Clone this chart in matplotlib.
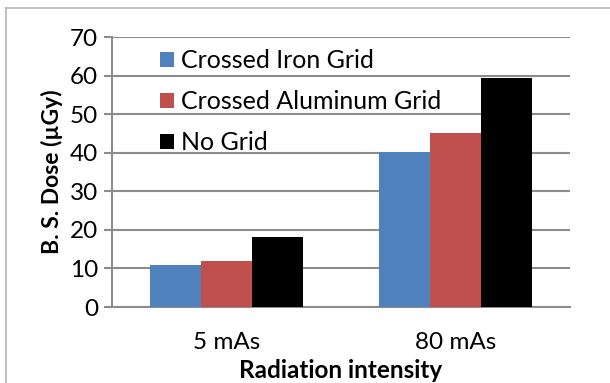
import matplotlib
matplotlib.use("Agg")
import matplotlib.pyplot as plt
import numpy as np
from matplotlib.lines import Line2D

categories = ["5 mAs", "80 mAs"]
series_names = ["Crossed Iron Grid", "Crossed Aluminum Grid", "No Grid"]
iron = [10.8, 40.1]
aluminum = [12.0, 45.1]
nogrid = [18.2, 59.3]
colors = ["#4f81bd", "#c0504d", "#000000"]
yticks = [0, 10, 20, 30, 40, 50, 60, 70]

plt.rcParams['font.family'] = ['Lato', 'DejaVu Sans']

fig = plt.figure(figsize=(6.1, 3.83), dpi=100)
ax = fig.add_axes([112/610, 1-307/383, 458/610, 270/383])

x = np.arange(len(categories))
w = 0.223
for i, (vals, c, n) in enumerate(zip([iron, aluminum, nogrid], colors, series_names)):
    ax.bar(x + (i - 1) * w, vals, width=w, color=c, label=n, zorder=3)

ax.set_xlim(-0.5, 1.5)
ax.set_ylim(0, 70)
ax.set_yticks(yticks)
ax.grid(axis='y', color='#8c8c8c', linewidth=1.5, zorder=0)
ax.set_axisbelow(True)
for s in ['top', 'right']:
    ax.spines[s].set_visible(False)
ax.spines['left'].set_color('#8c8c8c')
ax.spines['left'].set_linewidth(1.5)
ax.spines['bottom'].set_color('#8c8c8c')
ax.spines['bottom'].set_linewidth(1.5)
ax.tick_params(axis='y', length=6, width=1.5, color='#8c8c8c', labelsize=17.5, pad=4)
ax.tick_params(axis='x', length=0, labelsize=17.5, pad=18)
ax.set_xticks(x)
ax.set_xticklabels(categories)
ax.set_ylabel("B. S. Dose (µGy)", fontsize=16.5, fontweight='bold', labelpad=5)
ax.set_xlabel("Radiation intensity", fontsize=17.5, fontweight='bold', labelpad=4)

leg = ax.legend(loc='upper left', bbox_to_anchor=(0.105, 0.955), frameon=False,
                fontsize=18, handlelength=0.55, handleheight=0.55,
                handletextpad=0.3, labelspacing=0.72, borderpad=0, borderaxespad=0)

fig.add_artist(Line2D([6/610, 6/610], [0, 1-8/383], color='#bfbfbf', linewidth=1.5, transform=fig.transFigure))
fig.add_artist(Line2D([6/610, 1], [1-8/383, 1-8/383], color='#bfbfbf', linewidth=1.5, transform=fig.transFigure))

fig.savefig("out.png", dpi=100)
